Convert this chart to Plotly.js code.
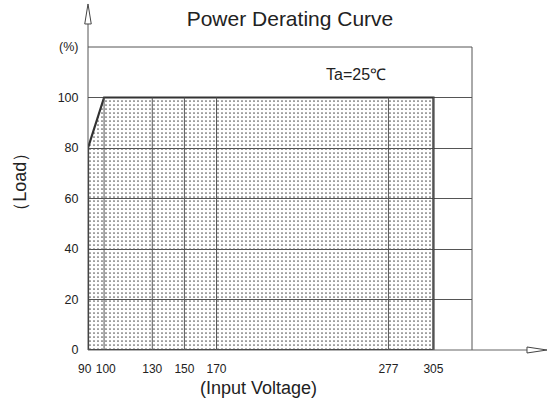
<!DOCTYPE html>
<html>
<head>
<meta charset="utf-8">
<script src="https://cdn.plot.ly/plotly-3.0.1.min.js"></script>
<style>html,body{margin:0;padding:0;background:#fff;}#chart{width:549px;height:406px;}</style>
</head>
<body>
<div id="chart"></div>
<script>
// Data
const curveVoltage = [90, 100, 305];
const curveLoad = [80, 100, 100];
const xTickVals = [90, 100, 130, 150, 170, 277, 305];
const xTickText = ['90\u00a0\u00a0', '\u00a0100', '130', '150', '170', '277', '305'];
const yTickVals = [0, 20, 40, 60, 80, 100, 120];
const yTickText = ['0', '20', '40', '60', '80', '100', '(%)'];
const vGridVoltage = [100, 130, 150, 170, 277, 305];
const xRange = [90, 329];
const yRange = [0, 120];
const gridTop = 100;

// closed polygon of derated area
const polyX = curveVoltage.concat([curveVoltage[curveVoltage.length - 1], curveVoltage[0], curveVoltage[0]]);
const polyY = curveLoad.concat([0, 0, curveLoad[0]]);

const gridColor = '#555';
const traces = [{
  x: polyX, y: polyY, mode: 'lines', fill: 'toself',
  fillcolor: 'rgba(0,0,0,0)',
  fillpattern: {shape: '.', size: 4, solidity: 0.14, fgcolor: '#555', bgcolor: 'rgba(0,0,0,0)'},
  line: {color: '#333', width: 2.2}, hoverinfo: 'skip', showlegend: false
}];

const shapes = [];
vGridVoltage.forEach(v => shapes.push({type: 'line', xref: 'x', yref: 'y', x0: v, x1: v, y0: 0, y1: gridTop, line: {color: gridColor, width: 1}}));
// right and top borders
shapes.push({type: 'line', xref: 'paper', yref: 'paper', x0: 1, x1: 1, y0: 0, y1: 1, line: {color: gridColor, width: 1}});
shapes.push({type: 'line', xref: 'paper', yref: 'paper', x0: 0, x1: 1, y0: 1, y1: 1, line: {color: gridColor, width: 1}});
// axis lines with open arrows
shapes.push({type: 'line', xref: 'paper', yref: 'paper', x0: 0, x1: 0, y0: 0, y1: 1.09, line: {color: '#555', width: 1}});
shapes.push({type: 'path', xref: 'paper', yref: 'paper', path: 'M -0.0085,1.076 L 0,1.142 L 0.0085,1.076 Z', fillcolor: '#fff', line: {color: '#444', width: 1}});
shapes.push({type: 'line', xref: 'paper', yref: 'paper', x0: 0, x1: 1.1432, y0: 0, y1: 0, line: {color: '#666', width: 1.2}});
shapes.push({type: 'path', xref: 'paper', yref: 'paper', path: 'M 1.1432,-0.0099 L 1.1953,0 L 1.1432,0.0099 Z', fillcolor: '#fff', line: {color: '#444', width: 1}});

const font = {family: 'Liberation Sans, Arial, sans-serif', color: '#222'};
const layout = {
  width: 549, height: 406,
  margin: {l: 88, r: 77, t: 47, b: 56},
  paper_bgcolor: '#fff', plot_bgcolor: '#fff',
  font: Object.assign({size: 12}, font),
  title: {text: 'Power Derating Curve', font: Object.assign({size: 21}, font), xref: 'paper', x: 0.526, xanchor: 'center', yref: 'container', y: 0.955, yanchor: 'middle'},
  xaxis: {range: xRange, tickvals: xTickVals, ticktext: xTickText, tickangle: 0, showgrid: false, zeroline: false, showline: false,
          ticks: 'outside', ticklen: 8, tickcolor: 'rgba(0,0,0,0)', tickfont: Object.assign({size: 12}, font), fixedrange: true},
  yaxis: {range: yRange, tickvals: yTickVals, ticktext: yTickText, showgrid: true, gridcolor: gridColor, gridwidth: 1,
          zeroline: false, showline: false, ticks: 'outside', ticklen: 6, tickcolor: 'rgba(0,0,0,0)', tickfont: Object.assign({size: 12.5}, font), fixedrange: true},
  shapes: shapes,
  annotations: [
    {text: 'Ta=25℃', xref: 'x', yref: 'y', x: 257, y: 109.3, xanchor: 'center', yanchor: 'middle', showarrow: false, font: Object.assign({size: 16}, font)},
    {text: '(Input Voltage)', xref: 'paper', yref: 'paper', x: 0.443, y: -0.125, xanchor: 'center', yanchor: 'middle', showarrow: false, font: Object.assign({size: 18}, font)},
    {text: '（Load）', xref: 'paper', yref: 'paper', x: -0.177, y: 0.555, xanchor: 'center', yanchor: 'middle', textangle: -90, showarrow: false, font: Object.assign({size: 18}, font)}
  ]
};
Plotly.newPlot('chart', traces, layout, {displayModeBar: false, staticPlot: true});
</script>
</body>
</html>
